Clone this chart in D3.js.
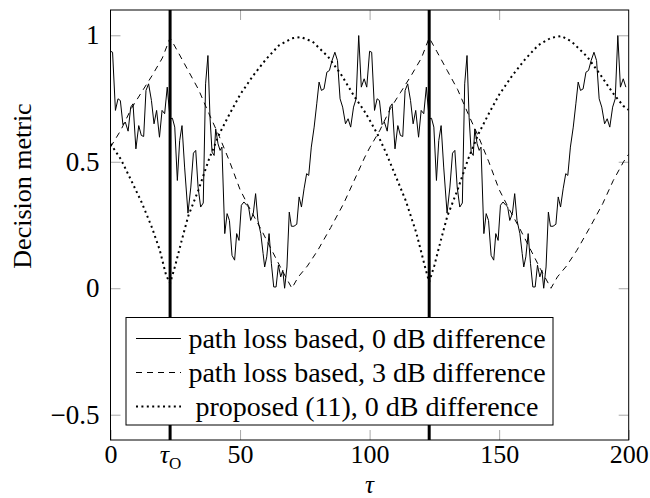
<!DOCTYPE html>
<html>
<head>
<meta charset="utf-8">
<script src="https://cdn.jsdelivr.net/npm/d3@7"></script>
<style>
body { margin: 0; background: #fff; }
svg { display: block; }
.tick line { stroke: #a8a8a8; }
</style>
</head>
<body>
<script>
// tau values where the switch happens (thick vertical lines)
var switchTaus = [23, 123];

// path loss based, 0 dB difference (noisy trace)
var solidTau = [
	0, 0.8, 1.9, 2.9, 3.8, 4.8, 5.7, 6.8, 7.8, 8.7,
	9.8, 10.9, 11.9, 12.8, 13.7, 14.7, 15.8, 16.8, 17.8, 18.9,
	19.9, 20.9, 21.9, 23.0, 23.9, 24.8, 25.8, 26.7, 27.6, 28.6,
	29.9, 31.0, 32.0, 32.9, 33.8, 34.8, 35.8, 36.7, 37.6, 38.4,
	39.2, 40.0, 40.6, 41.5, 42.3, 43.0, 44.1, 45.0, 45.9, 46.9,
	47.9, 48.7, 49.6, 50.5, 51.5, 52.6, 53.3, 54.1, 55.1, 56.0,
	56.9, 58.0, 58.9, 59.5, 60.3, 61.2, 62.1, 63.0, 63.9, 64.8,
	65.7, 66.5, 67.2, 68.1, 69.0, 69.8, 70.8, 71.9, 72.8, 73.7,
	74.7, 75.7, 76.5, 77.5, 78.6, 79.6, 80.5, 81.4, 82.4, 83.5,
	84.5, 85.5, 86.6, 87.6, 88.6, 89.6, 90.7, 91.7, 92.7, 93.8,
	94.8, 95.8, 96.8, 97.9, 98.9,
	100, 100.8, 101.9, 102.9, 103.8, 104.8, 105.7, 106.8, 107.8, 108.7,
	109.8, 110.9, 111.9, 112.8, 113.7, 114.7, 115.8, 116.8, 117.8, 118.9,
	119.9, 120.9, 121.9, 123.0, 123.9, 124.8, 125.8, 126.7, 127.6, 128.6,
	129.9, 131.0, 132.0, 132.9, 133.8, 134.8, 135.8, 136.7, 137.6, 138.4,
	139.2, 140.0, 140.6, 141.5, 142.3, 143.0, 144.1, 145.0, 145.9, 146.9,
	147.9, 148.7, 149.6, 150.5, 151.5, 152.6, 153.3, 154.1, 155.1, 156.0,
	156.9, 158.0, 158.9, 159.5, 160.3, 161.2, 162.1, 163.0, 163.9, 164.8,
	165.7, 166.5, 167.2, 168.1, 169.0, 169.8, 170.8, 171.9, 172.8, 173.7,
	174.7, 175.7, 176.5, 177.5, 178.6, 179.6, 180.5, 181.4, 182.4, 183.5,
	184.5, 185.5, 186.6, 187.6, 188.6, 189.6, 190.7, 191.7, 192.7, 193.8,
	194.8, 195.8, 196.8, 197.9, 198.9
];
var solidValues = [
	0.937, 0.933, 0.703, 0.749, 0.742, 0.647, 0.657, 0.621, 0.716, 0.729,
	0.551, 0.643, 0.604, 0.600, 0.782, 0.808, 0.742, 0.650, 0.703, 0.597,
	0.703, 0.690, 0.795, 0.670, 0.672, 0.637, 0.426, 0.584, 0.643, 0.479,
	0.297, 0.400, 0.534, 0.545, 0.400, 0.321, 0.337, 0.808, 0.920, 0.676,
	0.538, 0.525, 0.630, 0.571, 0.545, 0.558, 0.216, 0.295, 0.268, 0.130,
	0.111, 0.216, 0.189, 0.328, 0.341, 0.328, 0.321, 0.268, 0.295, 0.374,
	0.268, 0.216, 0.137, 0.084, 0.124, 0.216, 0.097, 0.005, 0.005, 0.091,
	0.045, 0.071, 0.000, 0.084, 0.301, 0.245, 0.245, 0.253, 0.361, 0.321,
	0.393, 0.453, 0.446, 0.558, 0.637, 0.729, 0.815, 0.782, 0.788, 0.854,
	0.861, 0.900, 0.933, 0.900, 0.749, 0.716, 0.650, 0.670, 0.637, 0.716,
	0.749, 0.999, 0.795, 0.828, 0.795,
	0.937, 0.933, 0.703, 0.749, 0.742, 0.647, 0.657, 0.621, 0.716, 0.729,
	0.551, 0.643, 0.604, 0.600, 0.782, 0.808, 0.742, 0.650, 0.703, 0.597,
	0.703, 0.690, 0.795, 0.670, 0.672, 0.637, 0.426, 0.584, 0.643, 0.479,
	0.297, 0.400, 0.534, 0.545, 0.400, 0.321, 0.337, 0.808, 0.920, 0.676,
	0.538, 0.525, 0.630, 0.571, 0.545, 0.558, 0.216, 0.295, 0.268, 0.130,
	0.111, 0.216, 0.189, 0.328, 0.341, 0.328, 0.321, 0.268, 0.295, 0.374,
	0.268, 0.216, 0.137, 0.084, 0.124, 0.216, 0.097, 0.005, 0.005, 0.091,
	0.045, 0.071, 0.000, 0.084, 0.301, 0.245, 0.245, 0.253, 0.361, 0.321,
	0.393, 0.453, 0.446, 0.558, 0.637, 0.729, 0.815, 0.782, 0.788, 0.854,
	0.861, 0.900, 0.933, 0.900, 0.749, 0.716, 0.650, 0.670, 0.637, 0.716,
	0.749, 0.999, 0.795, 0.828, 0.795
];

// path loss based, 3 dB difference
var dashedTau = [
	0, 4, 8, 12, 16, 20, 23, 26, 30, 34, 38, 42, 46, 50, 54, 58, 62, 66, 70,
	72.5, 76, 80, 85, 90, 94, 98,
	100, 104, 108, 112, 116, 120, 123, 126, 130, 134, 138, 142, 146, 150, 154, 158, 162, 166, 170,
	172.5, 176, 180, 185, 190, 194, 198, 200
];
var dashedValues = [
	0.558, 0.625, 0.71, 0.775, 0.84, 0.91, 0.99, 0.935, 0.86, 0.785, 0.69, 0.60, 0.50, 0.39, 0.31, 0.235, 0.155, 0.075, 0.0,
	0.045, 0.088, 0.15, 0.24, 0.335, 0.425, 0.515,
	0.555, 0.625, 0.71, 0.775, 0.84, 0.91, 0.99, 0.935, 0.86, 0.785, 0.69, 0.60, 0.50, 0.39, 0.31, 0.235, 0.155, 0.075, 0.0,
	0.045, 0.088, 0.15, 0.24, 0.335, 0.425, 0.50, 0.53
];

// proposed (11), 0 dB difference
var dottedTau = [
	0, 4, 8, 12, 16, 19, 21.5, 23, 25, 27.5, 30, 34, 38, 42, 46, 50, 55, 60, 65, 70,
	73.5, 78, 84, 89, 94, 98,
	100, 103, 106.5, 110, 114, 118, 121.5, 123, 125, 127.5, 130, 134, 138, 142, 146, 150,
	155, 160, 165, 170, 174, 178, 184, 189, 194, 198, 200
];
var dottedValues = [
	0.571, 0.51, 0.426, 0.34, 0.24, 0.151, 0.05, 0.02, 0.09, 0.19, 0.285, 0.39, 0.51, 0.61, 0.69, 0.765, 0.84, 0.905, 0.96, 0.988,
	0.993, 0.975, 0.915, 0.845, 0.76, 0.70,
	0.665, 0.61, 0.532, 0.445, 0.345, 0.22, 0.08, 0.025, 0.09, 0.19, 0.285, 0.39, 0.51, 0.61, 0.69, 0.765,
	0.84, 0.905, 0.96, 0.99, 0.997, 0.975, 0.915, 0.845, 0.77, 0.72, 0.705
];

var xTickValues = [0, 23, 50, 100, 150, 200];
var yTickValues = [-0.5, 0, 0.5, 1];
var legendLabels = [
	'path loss based, 0 dB difference',
	'path loss based, 3 dB difference',
	'proposed (11), 0 dB difference'
];

var serif = '"Liberation Serif"';
var width = 650;
var height = 498;
var margin = { top: 10, right: 21.3, bottom: 58, left: 110.5 };

var svg = d3.select('body')
	.append('svg')
		.attr('width', width)
		.attr('height', height);

var x = d3.scaleLinear()
	.domain([0, 200])
	.range([margin.left, width - margin.right]);
var y = d3.scaleLinear()
	.domain([-0.6, 1.1])
	.range([height - margin.bottom, margin.top]);

svg.append('defs')
	.append('clipPath')
		.attr('id', 'plot-clip')
	.append('rect')
		.attr('x', x(0))
		.attr('y', y(1.1))
		.attr('width', x(200) - x(0))
		.attr('height', y(-0.6) - y(1.1));

function cleanAxis(g, size) {
	g.select('.domain').remove();
	g.attr('font-size', size || 27);
	g.selectAll('.tick text')
		.attr('fill', '#000')
		.style('font-family', serif);
}

// bottom axis with labels
var xAxisG = svg.append('g')
	.attr('class', 'x axis')
	.attr('transform', 'translate(0,' + y(-0.6) + ')')
	.call(d3.axisBottom(x)
		.tickValues(xTickValues)
		.tickSize(-10)
		.tickPadding(5)
		.tickFormat(function(d) {
			return d === switchTaus[0] ? '' : d;
		}))
	.call(cleanAxis, 26);

// tau_O label under the first switching point
var tauLabel = xAxisG.selectAll('.tick')
	.filter(function(d) { return d === switchTaus[0]; })
	.select('text');
tauLabel.append('tspan')
	.attr('font-style', 'italic')
	.text('τ');
tauLabel.append('tspan')
	.attr('font-size', 17)
	.attr('dy', '0.3em')
	.text('O');

svg.append('g')
	.attr('transform', 'translate(0,' + y(1.1) + ')')
	.call(d3.axisTop(x)
		.tickValues([50, 100, 150])
		.tickSize(-10)
		.tickFormat(''))
	.call(cleanAxis);

svg.append('g')
	.attr('class', 'y axis')
	.attr('transform', 'translate(' + x(0) + ',0)')
	.call(d3.axisLeft(y)
		.tickValues(yTickValues)
		.tickSize(-10)
		.tickPadding(11)
		.tickFormat(d3.format('~g')))
	.call(cleanAxis);

svg.append('g')
	.attr('transform', 'translate(' + x(200) + ',0)')
	.call(d3.axisRight(y)
		.tickValues(yTickValues)
		.tickSize(-10)
		.tickFormat(''))
	.call(cleanAxis);

// data lines
var line = d3.line()
	.x(function(d) { return x(d[0]); })
	.y(function(d) { return y(d[1]); });

var series = [
	{ points: d3.zip(solidTau, solidValues), dash: null, width: 1 },
	{ points: d3.zip(dashedTau, dashedValues), dash: '6,5', width: 1 },
	{ points: d3.zip(dottedTau, dottedValues), dash: '2,3.4', width: 2 }
];

var plot = svg.append('g')
	.attr('clip-path', 'url(#plot-clip)');

plot.selectAll('.series')
	.data(series)
	.enter()
	.append('path')
		.attr('class', 'series')
		.attr('fill', 'none')
		.attr('stroke', '#000')
		.attr('stroke-width', function(d) { return d.width; })
		.attr('stroke-dasharray', function(d) { return d.dash; })
		.attr('stroke-linejoin', 'round')
		.attr('d', function(d) { return line(d.points); });

plot.selectAll('.switch')
	.data(switchTaus)
	.enter()
	.append('line')
		.attr('class', 'switch')
		.attr('x1', function(d) { return x(d); })
		.attr('x2', function(d) { return x(d); })
		.attr('y1', y(1.1))
		.attr('y2', y(-0.6))
		.attr('stroke', '#000')
		.attr('stroke-width', 3);

// frame
svg.append('rect')
	.attr('x', x(0))
	.attr('y', y(1.1))
	.attr('width', x(200) - x(0))
	.attr('height', y(-0.6) - y(1.1))
	.attr('fill', 'none')
	.attr('stroke', '#000')
	.attr('stroke-width', 1);

// legend
var legend = svg.append('g')
	.attr('class', 'legend')
	.attr('transform', 'translate(126,317.5)');

legend.append('rect')
	.attr('width', 427)
	.attr('height', 107.5)
	.attr('fill', '#fff')
	.attr('stroke', '#000')
	.attr('stroke-width', 1);

var rows = legend.selectAll('.legend-row')
	.data(series)
	.enter()
	.append('g')
		.attr('class', 'legend-row')
		.attr('transform', function(d, i) {
			return 'translate(0,' + (21 + i * 34) + ')';
		});

rows.append('line')
	.attr('x1', 10)
	.attr('x2', 55)
	.attr('stroke', '#000')
	.attr('stroke-width', function(d) { return d.width; })
	.attr('stroke-dasharray', function(d) { return d.dash; });

rows.append('text')
	.attr('x', 241)
	.attr('dy', '0.33em')
	.attr('font-size', 28)
	.attr('text-anchor', 'middle')
	.style('font-family', serif)
	.text(function(d, i) { return legendLabels[i]; });

// axis labels
svg.append('text')
	.attr('x', x(100))
	.attr('y', 492.5)
	.attr('font-size', 25)
	.attr('font-style', 'italic')
	.attr('text-anchor', 'middle')
	.style('font-family', serif)
	.text('τ');

svg.append('text')
	.attr('transform', 'translate(31,186) rotate(-90)')
	.attr('font-size', 26)
	.attr('text-anchor', 'middle')
	.style('font-family', serif)
	.text('Decision metric');
</script>
</body>
</html>
